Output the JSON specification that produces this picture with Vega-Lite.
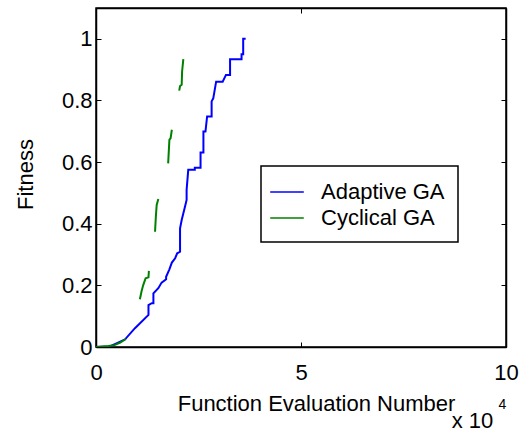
{
  "$schema": "https://vega.github.io/schema/vega-lite/v6.json",
  "autosize": "none",
  "width": 410,
  "height": 339,
  "padding": {"left": 96, "top": 8, "right": 26, "bottom": 87},
  "background": "white",
  "data": {"values": [
    {"s":"Adaptive GA","g":"a0","i":1,"x":0,"y":0},
    {"s":"Adaptive GA","g":"a0","i":2,"x":0.34,"y":0.002},
    {"s":"Adaptive GA","g":"a0","i":3,"x":0.71,"y":0.025},
    {"s":"Adaptive GA","g":"a0","i":4,"x":0.95,"y":0.061},
    {"s":"Adaptive GA","g":"a0","i":5,"x":1.28,"y":0.104},
    {"s":"Adaptive GA","g":"a0","i":6,"x":1.28,"y":0.136},
    {"s":"Adaptive GA","g":"a0","i":7,"x":1.36,"y":0.142},
    {"s":"Adaptive GA","g":"a0","i":8,"x":1.40,"y":0.142},
    {"s":"Adaptive GA","g":"a0","i":9,"x":1.40,"y":0.174},
    {"s":"Adaptive GA","g":"a0","i":10,"x":1.52,"y":0.191},
    {"s":"Adaptive GA","g":"a0","i":11,"x":1.60,"y":0.209},
    {"s":"Adaptive GA","g":"a0","i":12,"x":1.71,"y":0.220},
    {"s":"Adaptive GA","g":"a0","i":13,"x":1.71,"y":0.228},
    {"s":"Adaptive GA","g":"a0","i":14,"x":1.79,"y":0.252},
    {"s":"Adaptive GA","g":"a0","i":15,"x":1.85,"y":0.274},
    {"s":"Adaptive GA","g":"a0","i":16,"x":1.93,"y":0.288},
    {"s":"Adaptive GA","g":"a0","i":17,"x":1.98,"y":0.304},
    {"s":"Adaptive GA","g":"a0","i":18,"x":2.05,"y":0.309},
    {"s":"Adaptive GA","g":"a0","i":19,"x":2.05,"y":0.385},
    {"s":"Adaptive GA","g":"a0","i":20,"x":2.09,"y":0.412},
    {"s":"Adaptive GA","g":"a0","i":21,"x":2.17,"y":0.455},
    {"s":"Adaptive GA","g":"a0","i":22,"x":2.21,"y":0.477},
    {"s":"Adaptive GA","g":"a0","i":23,"x":2.21,"y":0.510},
    {"s":"Adaptive GA","g":"a0","i":24,"x":2.25,"y":0.575},
    {"s":"Adaptive GA","g":"a0","i":25,"x":2.41,"y":0.575},
    {"s":"Adaptive GA","g":"a0","i":26,"x":2.41,"y":0.582},
    {"s":"Adaptive GA","g":"a0","i":27,"x":2.55,"y":0.582},
    {"s":"Adaptive GA","g":"a0","i":28,"x":2.55,"y":0.631},
    {"s":"Adaptive GA","g":"a0","i":29,"x":2.62,"y":0.631},
    {"s":"Adaptive GA","g":"a0","i":30,"x":2.62,"y":0.699},
    {"s":"Adaptive GA","g":"a0","i":31,"x":2.67,"y":0.699},
    {"s":"Adaptive GA","g":"a0","i":32,"x":2.71,"y":0.748},
    {"s":"Adaptive GA","g":"a0","i":33,"x":2.82,"y":0.748},
    {"s":"Adaptive GA","g":"a0","i":34,"x":2.82,"y":0.797},
    {"s":"Adaptive GA","g":"a0","i":35,"x":2.86,"y":0.807},
    {"s":"Adaptive GA","g":"a0","i":36,"x":2.93,"y":0.861},
    {"s":"Adaptive GA","g":"a0","i":37,"x":3.09,"y":0.861},
    {"s":"Adaptive GA","g":"a0","i":38,"x":3.17,"y":0.883},
    {"s":"Adaptive GA","g":"a0","i":39,"x":3.27,"y":0.883},
    {"s":"Adaptive GA","g":"a0","i":40,"x":3.27,"y":0.934},
    {"s":"Adaptive GA","g":"a0","i":41,"x":3.55,"y":0.934},
    {"s":"Adaptive GA","g":"a0","i":42,"x":3.55,"y":0.950},
    {"s":"Adaptive GA","g":"a0","i":43,"x":3.59,"y":0.950},
    {"s":"Adaptive GA","g":"a0","i":44,"x":3.59,"y":1.0},
    {"s":"Adaptive GA","g":"a0","i":45,"x":3.65,"y":1.0},
    {"s":"Cyclical GA","g":"c1","i":1,"x":0,"y":0},
    {"s":"Cyclical GA","g":"c1","i":2,"x":0.30,"y":0.003},
    {"s":"Cyclical GA","g":"c1","i":3,"x":0.45,"y":0.006},
    {"s":"Cyclical GA","g":"c1","i":4,"x":0.59,"y":0.014},
    {"s":"Cyclical GA","g":"c1","i":5,"x":0.73,"y":0.026},
    {"s":"Cyclical GA","g":"c2","i":1,"x":1.07,"y":0.155},
    {"s":"Cyclical GA","g":"c2","i":2,"x":1.11,"y":0.18},
    {"s":"Cyclical GA","g":"c2","i":3,"x":1.15,"y":0.2},
    {"s":"Cyclical GA","g":"c2","i":4,"x":1.21,"y":0.223},
    {"s":"Cyclical GA","g":"c2","i":5,"x":1.28,"y":0.226},
    {"s":"Cyclical GA","g":"c2","i":6,"x":1.29,"y":0.247},
    {"s":"Cyclical GA","g":"c3","i":1,"x":1.44,"y":0.374},
    {"s":"Cyclical GA","g":"c3","i":2,"x":1.46,"y":0.423},
    {"s":"Cyclical GA","g":"c3","i":3,"x":1.48,"y":0.461},
    {"s":"Cyclical GA","g":"c3","i":4,"x":1.52,"y":0.48},
    {"s":"Cyclical GA","g":"c4","i":1,"x":1.76,"y":0.596},
    {"s":"Cyclical GA","g":"c4","i":2,"x":1.79,"y":0.672},
    {"s":"Cyclical GA","g":"c4","i":3,"x":1.82,"y":0.678},
    {"s":"Cyclical GA","g":"c4","i":4,"x":1.85,"y":0.705},
    {"s":"Cyclical GA","g":"c5","i":1,"x":2.03,"y":0.832},
    {"s":"Cyclical GA","g":"c5","i":2,"x":2.05,"y":0.847},
    {"s":"Cyclical GA","g":"c5","i":3,"x":2.09,"y":0.851},
    {"s":"Cyclical GA","g":"c5","i":4,"x":2.10,"y":0.894},
    {"s":"Cyclical GA","g":"c5","i":5,"x":2.13,"y":0.934}
  ]},
  "layer": [
    {
      "mark": {"type": "line", "strokeWidth": 2, "clip": true},
      "encoding": {
        "x": {"field": "x", "type": "quantitative", "scale": {"domain": [0, 10], "nice": false, "zero": false},
              "axis": {"orient": "bottom", "values": [0, 5, 10], "format": "~r", "labelPadding": 20, "labelFlush": false,
                       "title": "Function Evaluation Number", "titleX": 220, "titleY": 56, "titleBaseline": "middle", "titleAlign": "center"}},
        "y": {"field": "y", "type": "quantitative", "scale": {"domain": [0, 1.1], "nice": false, "zero": false},
              "axis": {"orient": "left", "values": [0, 0.2, 0.4, 0.6, 0.8, 1], "format": "~r", "labelPadding": 9, "labelFlush": false,
                       "title": "Fitness", "titleX": -71, "titleY": 166, "titleBaseline": "middle", "titleAlign": "center", "titleAngle": -90}},
        "color": {"field": "s", "type": "nominal",
                  "scale": {"domain": ["Adaptive GA", "Cyclical GA"], "range": ["#0000ff", "#008000"]},
                  "legend": {"title": null, "orient": "none", "legendX": 165, "legendY": 158}},
        "detail": {"field": "g", "type": "nominal"},
        "order": {"field": "i", "type": "quantitative"}
      }
    },
    {
      "mark": {"type": "point", "opacity": 0},
      "encoding": {
        "x": {"field": "x", "type": "quantitative",
              "axis": {"orient": "top", "values": [0, 5, 10], "labels": false,
                       "title": "x 10", "titleX": 376, "titleY": 412, "titleBaseline": "middle", "titleAlign": "center", "titleAngle": 0}},
        "y": {"field": "y", "type": "quantitative",
              "axis": {"orient": "right", "values": [0, 0.2, 0.4, 0.6, 0.8, 1], "labels": false,
                       "title": "4", "titleX": -4, "titleY": 396, "titleBaseline": "middle", "titleAlign": "center", "titleAngle": 0, "titleFontSize": 14}}
      }
    }
  ],
  "resolve": {"axis": {"x": "independent", "y": "independent"}},
  "config": {
    "font": "Liberation Sans",
    "view": {"stroke": "black", "strokeWidth": 1.5},
    "axis": {"grid": false, "domainColor": "black", "domainWidth": 1.5, "tickColor": "black", "tickWidth": 1, "tickSize": -5,
             "labelColor": "black", "titleColor": "black", "labelFontSize": 22, "titleFontSize": 22, "titleFontWeight": "normal"},
    "legend": {"strokeColor": "black", "strokeWidth": 1.5, "fillColor": "white", "padding": 13, "symbolType": "M-1.4,0H1.4",
               "symbolSize": 576, "symbolStrokeWidth": 1.5, "labelFontSize": 22, "labelOffset": 21, "rowPadding": 2, "labelColor": "black"}
  }
}
